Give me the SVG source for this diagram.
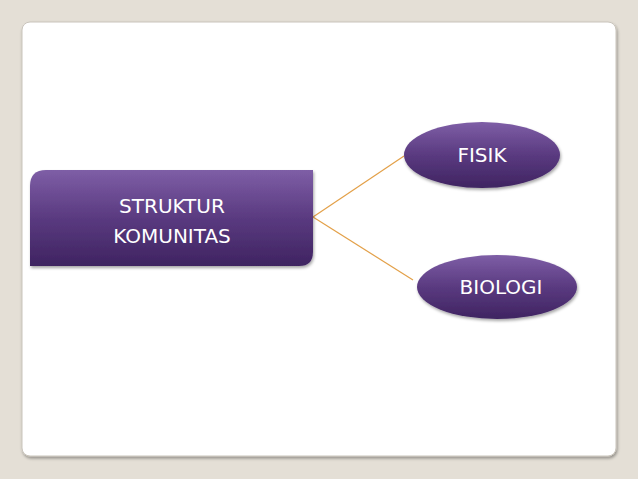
<svg xmlns="http://www.w3.org/2000/svg" width="638" height="479" viewBox="0 0 638 479">
<defs>
<linearGradient id="g" x1="0" y1="0" x2="0" y2="1"><stop offset="0" stop-color="#7e5ea6"/><stop offset="0.5" stop-color="#5a3a80"/><stop offset="1" stop-color="#3f2461"/></linearGradient>
<filter id="s" x="-10%" y="-10%" width="130%" height="140%"><feDropShadow dx="1" dy="2" stdDeviation="1.5" flood-color="#000" flood-opacity="0.35"/></filter>
</defs>
<style>text{font-family:"DejaVu Sans",Verdana,sans-serif;font-size:20px;fill:#fff}</style>
<rect width="638" height="479" fill="#e4dfd6"/>
<rect x="22" y="22" width="594" height="434" rx="8" fill="#fff" stroke="#c9c4bb" filter="url(#s)"/>
<g id="connectors" stroke="#e3a048" stroke-width="1.2" fill="none">
<line x1="313" y1="217" x2="404" y2="156"/>
<line x1="313" y1="217" x2="413" y2="280"/>
</g>
<g id="struktur">
<path d="M46 170 H313 V252 Q313 266 299 266 H30 V186 Q30 170 46 170 Z" fill="url(#g)" filter="url(#s)"/>
<text x="172" y="213" text-anchor="middle">STRUKTUR</text>
<text x="172" y="243" text-anchor="middle">KOMUNITAS</text>
</g>
<g id="fisik">
<ellipse cx="482" cy="155" rx="78" ry="33" fill="url(#g)" filter="url(#s)"/>
<text x="482" y="162" text-anchor="middle">FISIK</text>
</g>
<g id="biologi">
<ellipse cx="497" cy="287" rx="80" ry="32" fill="url(#g)" filter="url(#s)"/>
<text x="501" y="294" text-anchor="middle">BIOLOGI</text>
</g>
</svg>
